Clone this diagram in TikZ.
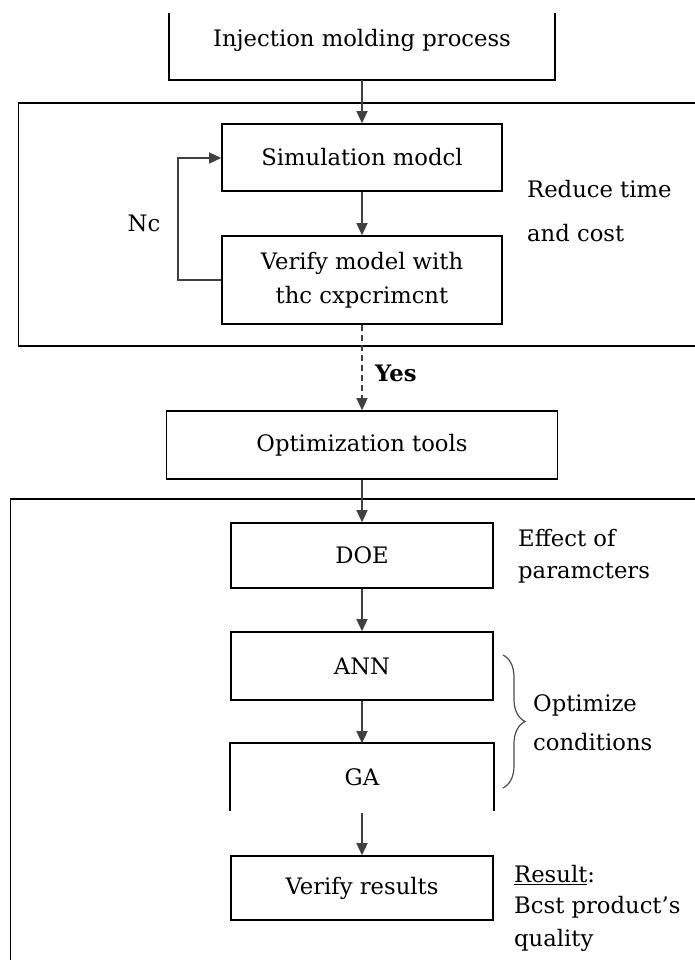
\documentclass[tikz,border=0pt]{standalone}
\usepackage{fontspec}
\setmainfont{DejaVu Serif}
\usetikzlibrary{arrows.meta,decorations.pathreplacing}
\newcommand\diagfont{\fontsize{22.7}{30}\selectfont}
\begin{document}
\begin{tikzpicture}[x=1pt,y=-1pt,
  frame/.style={draw=black,line width=1.6pt},
  box/.style={frame,minimum width=262pt,minimum height=65pt,inner sep=0pt,align=center,font=\diagfont},
  conn/.style={draw=black!75,line width=1.3pt,-{Triangle[width=11pt,length=12pt]}},
  note/.style={anchor=west,inner sep=0pt,font=\diagfont}
]
\useasboundingbox (0,0) rectangle (695,960);

% process box, top edge cut off
\coordinate (topcut) at (0,13);
\node[minimum width=386pt,minimum height=80pt,inner sep=0pt,font=\diagfont] (inj) at (362,40) {Injection molding process};
\draw[frame] (inj.west |- topcut) -- (inj.south west) -- (inj.south east) -- (inj.east |- topcut);

% simulation stage
\draw[frame] (697,103) -- (18.6,103) -- (18.6,346) -- (697,346);
\node[box,minimum width=280pt,minimum height=67pt] (sim) at (362,157.5) {Simulation modcl};
\node[box,minimum width=280pt,minimum height=88pt,font=\fontsize{22.7}{34}\selectfont] (ver) at (362,280) {Verify model with\\thc cxpcrimcnt};
\coordinate (loopb) at (178,280);
\coordinate (loopt) at (178,158);
\node[inner sep=0pt,font=\diagfont] (no) at (144,223) {Nc};
\node[note] (red1) at (527,189) {Reduce time};
\node[note] (red2) at (527,233) {and cost};

\draw[conn] (inj.south) -- (sim.north);
\draw[conn] (sim.south) -- (ver.north);
\draw[conn] (ver.west |- loopb) -- (loopb) -- (loopt) -- (sim.west |- loopt);

% optimization
\node[box,minimum width=391pt,minimum height=68pt] (opt) at (362,445) {Optimization tools};
\draw[conn,dash pattern=on 6pt off 4pt] (ver.south) -- (opt.north);
\node[note,font=\diagfont\bfseries] (yes) at (375,373) {Yes};

% optimization stage
\draw[frame] (697,499) -- (10.6,499) -- (10.6,962);
\node[box] (doe) at (362,555.5) {DOE};
\node[box,minimum height=68pt] (ann) at (362,666) {ANN};
\node[box,draw=none,minimum height=66pt] (ga) at (362,777) {GA};
\draw[frame] (ga.south west) -- (ga.north west) -- (ga.north east) -- (ga.south east);
\node[box,minimum height=64pt] (vr) at (362,888) {Verify results};

\draw[conn] (opt.south) -- (doe.north);
\draw[conn] (doe.south) -- (ann.north);
\draw[conn] (ann.south) -- (ga.north);
\draw[conn] ([yshift=-2pt]ga.south) -- (vr.north);

\node[note] (eff1) at (518,538) {Effect of};
\node[note] (eff2) at (518,573) {paramcters};

\draw[draw=black!70,line width=1.2pt,decorate,decoration={brace,amplitude=22pt}]
  (503,655) -- (503,788);
\node[note] (opt1) at (533,705) {Optimize};
\node[note] (opt2) at (533,742) {conditions};

\node[note] (res1) at (514,875) {\underline{Result}:};
\node[note] (res2) at (514,907) {Bcst product’s};
\node[note] (res3) at (514,940) {quality};
\end{tikzpicture}
\end{document}
